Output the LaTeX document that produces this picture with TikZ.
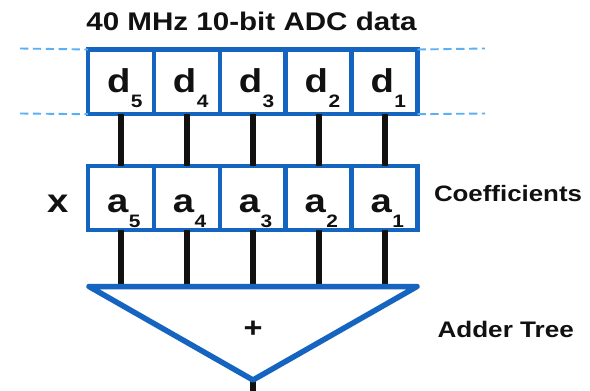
\documentclass[tikz,border=0pt]{standalone}
\usepackage{fontspec}
\setmainfont{Liberation Sans}[FakeStretch=1.16]
\definecolor{boxblue}{RGB}{21,101,192}
\definecolor{dashblue}{RGB}{90,175,245}
\definecolor{ink}{RGB}{17,17,17}
\newcommand\sublab[2]{\fontsize{33}{33}\selectfont\bfseries #1\kern0.5pt\raisebox{-15pt}{\fontsize{18}{18}\selectfont #2}}
\begin{document}
\begin{tikzpicture}[x=1pt,y=-1pt,
  cell/.style={draw=boxblue, line width=4.5pt, minimum width=65.9pt, inner sep=0pt, outer sep=0pt},
  datacell/.style={cell, minimum height=64.7pt},
  coefcell/.style={cell, minimum height=64.2pt},
  lab/.style={inner sep=0pt, outer sep=0pt, anchor=base west, text=ink},
  wire/.style={draw=ink, line width=6pt},
  dashline/.style={draw=dashblue, line width=1.9pt, dash pattern=on 8.3pt off 4.6pt},
  txt/.style={inner sep=0pt, outer sep=0pt, text=ink, font=\bfseries}]
\useasboundingbox (0,0) rectangle (590,391);
\fill[white] (0,0) rectangle (590,391);

% triangle corners
\coordinate (tl) at (89,286.5);
\coordinate (tr) at (417,286.5);
\coordinate (apex) at (253,380);
\coordinate (outb) at (253,396);

% boxes
\foreach \i/\x in {5/120.95,4/186.85,3/252.75,2/318.65,1/384.55}{
  \node[datacell] (d\i) at (\x,81.85) {};
  \node[coefcell] (a\i) at (\x,198) {};
}
% labels
\foreach \i/\x in {5/107,4/172.9,3/238.8,2/304.7,1/370.6}{
  \node[lab] (ld\i) at (\x,92) {\sublab{d}{\i}};
  \node[lab] (la\i) at (\x,212.3) {\sublab{a}{\i}};
}

% dashed guides
\coordinate (gl1) at (20,48.5);
\coordinate (gl2) at (20,113.5);
\coordinate (gr1) at (485,48.5);
\coordinate (gr2) at (485,113.5);
\draw[dashline] (gl1) -- (d5.north west);
\draw[dashline] (gl2) -- (d5.south west);
\draw[dashline] (d1.north east) -- (gr1);
\draw[dashline] (d1.south east) -- (gr2);

% wires
\foreach \i in {1,...,5}{
  \draw[wire] (d\i.south) -- (a\i.north);
  \draw[wire] (a\i.south) -- (a\i.south |- tl);
}
\draw[wire] (apex) -- (outb);

% adder triangle
\draw[boxblue, line width=5.5pt, line join=round, line cap=round, fill=white] (tl) -- (tr) -- (apex) -- cycle;

% texts
\node[txt, anchor=base, font=\bfseries\fontsize{25.5}{25.5}\selectfont] (title) at (251.5,30) {40 MHz 10-bit ADC data};
\node[txt, anchor=base west, font=\bfseries\fontsize{22.3}{22.3}\selectfont] (coef) at (434,201) {Coefficients};
\node[txt, anchor=base west, font=\bfseries\fontsize{22.5}{22.5}\selectfont] (adder) at (437.5,337) {Adder Tree};
\node[txt, anchor=base west, font=\bfseries\fontsize{33}{33}\selectfont] (times) at (47,212) {x};
\node[txt, anchor=center, font=\bfseries\fontsize{28}{28}\selectfont] (plus) at (253,329) {+};
\end{tikzpicture}
\end{document}
